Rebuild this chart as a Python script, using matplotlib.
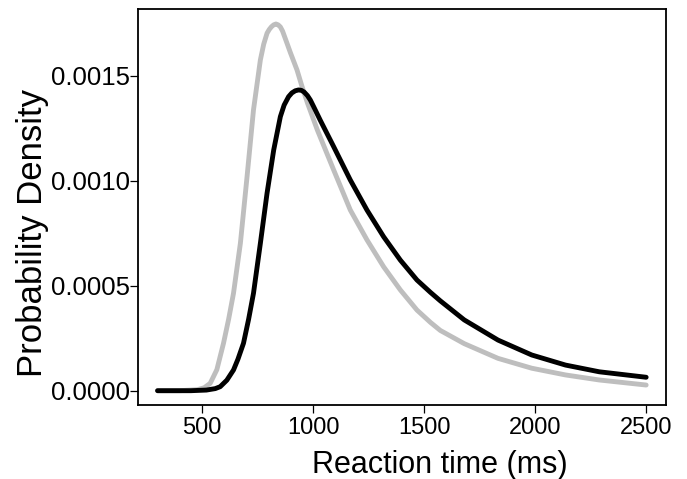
import matplotlib
matplotlib.use("Agg")
import matplotlib.pyplot as plt

plt.rcParams['font.family'] = ['Liberation Sans', 'DejaVu Sans']

# values
rt_gray = [300, 400, 480, 510, 537, 567, 597, 620, 642, 673, 703, 732, 763, 778, 793,
           803, 813, 823, 833, 843, 853, 863, 883, 898, 928, 950, 975, 1020, 1093, 1168,
           1243, 1318, 1393, 1468, 1529, 1573, 1681, 1833, 1985, 2137, 2289, 2500]
dens_gray = [0.0, 0.0, 0.000005, 0.000014, 0.000035, 0.0001, 0.000226, 0.00034,
             0.000464, 0.000702, 0.001019, 0.001337, 0.001575, 0.00165, 0.001702,
             0.00172, 0.001733, 0.001742, 0.001746, 0.001742, 0.001732, 0.001712,
             0.001654, 0.00161, 0.001527, 0.00145, 0.00137, 0.00124, 0.001051, 0.00086,
             0.000718, 0.00059, 0.00048, 0.000384, 0.000325, 0.000287, 0.000224,
             0.000154, 0.000107, 0.000075, 0.000051, 0.000027]

rt_black = [300, 450, 520, 560, 582, 612, 642, 662, 687, 710, 732, 763, 793, 823, 853,
            870, 890, 905, 920, 935, 948, 960, 975, 988, 1003, 1033, 1093, 1168, 1243,
            1318, 1393, 1468, 1529, 1573, 1681, 1833, 1985, 2137, 2289, 2500]
dens_black = [0.0, 0.0, 0.000003, 0.00001, 0.000019, 0.00005, 0.0000986, 0.00015,
              0.000226, 0.00034, 0.000464, 0.000702, 0.00094, 0.001146, 0.001305,
              0.00136, 0.0014, 0.001418, 0.001428, 0.001432, 0.00143, 0.001422,
              0.001405, 0.001384, 0.001352, 0.001287, 0.001162, 0.001003, 0.00086,
              0.000733, 0.000622, 0.000527, 0.000468, 0.000428, 0.000337, 0.000241,
              0.00017, 0.000122, 0.00009, 0.000064]

x_ticks = [500, 1000, 1500, 2000, 2500]
y_ticks = [0.0, 0.0005, 0.0010, 0.0015]
y_tick_labels = ["0.0000", "0.0005", "0.0010", "0.0015"]

fig = plt.figure(figsize=(6.87, 4.79), dpi=100)
ax = fig.add_axes([138 / 687, 74 / 479, 527.7 / 687, 395.7 / 479])

ax.plot(rt_gray, dens_gray, color="#bebebe", lw=3.5, solid_capstyle="round", solid_joinstyle="round")
ax.plot(rt_black, dens_black, color="black", lw=3.5, solid_capstyle="round", solid_joinstyle="round")

ax.set_xlim(212, 2588)
ax.set_ylim(-0.0000681, 0.001816)

ax.set_xticks(x_ticks)
ax.set_xticklabels([str(t) for t in x_ticks])
ax.set_yticks(y_ticks)
ax.set_yticklabels(y_tick_labels)

for s in ax.spines.values():
    s.set_linewidth(1.3)
ax.tick_params(axis="x", direction="out", length=5.5, width=0.9, pad=3.5, labelsize=17)
ax.tick_params(axis="y", direction="out", length=5.5, width=0.9, pad=0.5, labelsize=18.5)

ax.set_xlabel("Reaction time (ms)", fontsize=22)
ax.xaxis.label.set_va("baseline")
ax.xaxis.set_label_coords(0.572, -0.171)

ax.set_ylabel("Probability Density", fontsize=25)
ax.yaxis.label.set_va("baseline")
ax.yaxis.set_label_coords(-0.1825, 0.435)

fig.savefig("out.png", dpi=100)
